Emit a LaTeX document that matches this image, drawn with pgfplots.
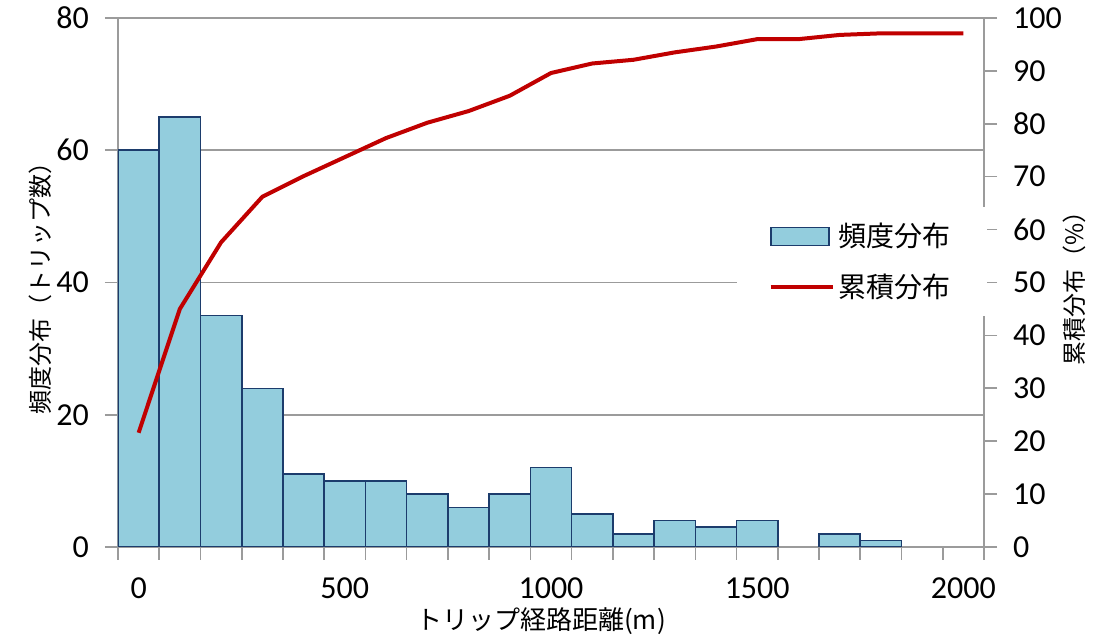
\documentclass[border=0pt]{standalone}
\usepackage{fontspec}
\setmainfont{Carlito}
\newfontfamily\jp{Noto Sans CJK JP}
\usepackage{pgfplots}
\pgfplotsset{compat=1.18}
\usepackage{pgfplotstable}

\definecolor{barfill}{RGB}{147,205,221}
\definecolor{barline}{RGB}{28,60,108}
\definecolor{cumred}{RGB}{192,0,0}
\definecolor{gridgray}{RGB}{155,155,155}

% frequency per 100 m class (1600 m class is empty)
\pgfplotstableread{
x    cnt
0    60
100  65
200  35
300  24
400  11
500  10
600  10
700  8
800  6
900  8
1000 12
1100 5
1200 2
1300 4
1400 3
1500 4
1700 2
1800 1
}\freq

% cumulative share in percent
\pgfplotstableread{
x    cum
0    21.6
100  45.0
200  57.6
300  66.2
400  70.1
500  73.7
600  77.3
700  80.2
800  82.4
900  85.3
1000 89.6
1100 91.4
1200 92.1
1300 93.5
1400 94.6
1500 96.0
1600 96.0
1700 96.8
1800 97.1
1900 97.1
2000 97.1
}\cum

\begin{document}
\begin{tikzpicture}
\pgfplotsset{
  every axis/.append style={
    scale only axis, width=433pt, height=264.5pt,
    xmin=-50, xmax=2050,
    /pgf/number format/assume math mode=true,
    /pgf/number format/1000 sep={},
    tick label style={font=\fontsize{16}{18}\selectfont},
    axis line style={gridgray, line width=0.8pt},
    tick style={gridgray, line width=0.8pt},
    tick align=outside, major tick length=6.5pt,
  }
}
\begin{axis}[
  axis x line*=bottom, axis y line*=left,
  ymin=0, ymax=80, ytick={0,20,...,80},
  ymajorgrids, grid style={gridgray, line width=0.8pt},
  xtick={-50,50,...,2050}, xticklabels={},
  extra x ticks={0,500,...,2000},
  extra x tick style={major tick length=0pt, grid=none,
    tick label style={yshift=-12pt}},
  yticklabel style={xshift=-4.5pt},
  every axis y label/.style={at={(axis description cs:0,0.5)}, xshift=-39pt, rotate=90, anchor=center},
  every axis x label/.style={at={(axis description cs:0.5,0)}, xshift=-5pt, yshift=-37pt, anchor=center},
  ylabel={\jp\fontsize{12}{14}\selectfont 頻度分布（トリップ数）},
  xlabel={\jp\fontsize{13}{15}\selectfont トリップ経路距離(m)},
]
\addplot[ybar, bar width=100, bar shift=0pt, fill=barfill, draw=barline, line width=0.8pt]
  table[x=x, y=cnt] {\freq};
\end{axis}

\begin{axis}[
  axis x line=none, axis y line*=right,
  ymin=0, ymax=100, ytick={0,10,...,100},
  yticklabel style={xshift=4.5pt},
  every axis y label/.style={at={(axis description cs:1,0.5)}, xshift=45pt, rotate=90, anchor=center},
  ylabel={\jp\fontsize{12}{14}\selectfont 累積分布（\%）},
  legend style={at={(0.714,0.539)}, anchor=west, draw=none, fill=white,
    font=\jp\fontsize{14}{16}\selectfont, row sep=8pt, inner xsep=16pt, inner ysep=6pt},
  legend cell align=left,
]
\addlegendimage{legend image code/.code={\draw[fill=barfill, draw=barline, line width=0.8pt] (0pt,-4.5pt) rectangle (29pt,4.5pt);}}
\addlegendentry{頻度分布}
\addplot[cumred, line width=2pt, line join=round,
  legend image code/.code={\draw[cumred, line width=2pt] (0pt,0pt) -- (31pt,0pt);}]
  table[x=x, y=cum] {\cum};
\addlegendentry{累積分布}
\end{axis}

\pgfresetboundingbox
\path[use as bounding box] (-59pt,-44.5pt) rectangle (492.5pt,273.5pt);
\end{tikzpicture}
\end{document}
